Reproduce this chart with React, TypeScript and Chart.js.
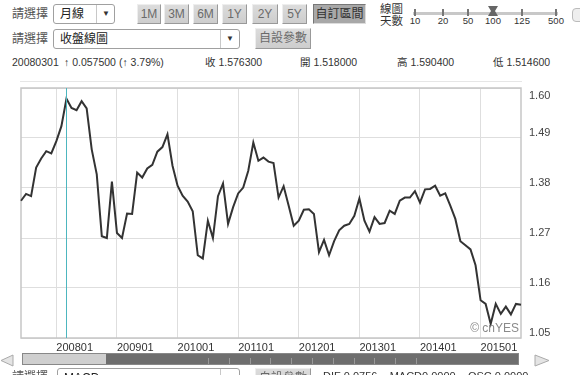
import React, { useEffect, useRef } from 'react';
import { Chart, registerables } from 'chart.js';
Chart.register(...registerables);

const months = [
  '200706','200707','200708','200709','200710','200711','200712',
  '200801','200802','200803','200804','200805','200806','200807','200808','200809','200810','200811','200812',
  '200901','200902','200903','200904','200905','200906','200907','200908','200909','200910','200911','200912',
  '201001','201002','201003','201004','201005','201006','201007','201008','201009','201010','201011','201012',
  '201101','201102','201103','201104','201105','201106','201107','201108','201109','201110','201111','201112',
  '201201','201202','201203','201204','201205','201206','201207','201208','201209','201210','201211','201212',
  '201301','201302','201303','201304','201305','201306','201307','201308','201309','201310','201311','201312',
  '201401','201402','201403','201404','201405','201406','201407','201408','201409','201410','201411','201412',
  '201501','201502','201503','201504','201505','201506','201507','201508','201509',
];

const closes = [
  1.352, 1.367, 1.362, 1.425, 1.445, 1.461, 1.456,
  1.483, 1.516, 1.5763, 1.556, 1.551, 1.571, 1.555, 1.465, 1.410, 1.274, 1.270, 1.394,
  1.281, 1.270, 1.324, 1.323, 1.414, 1.403, 1.423, 1.431, 1.460, 1.470, 1.498, 1.429,
  1.385, 1.363, 1.350, 1.329, 1.232, 1.225, 1.308, 1.270, 1.362, 1.390, 1.301, 1.338,
  1.368, 1.381, 1.418, 1.480, 1.440, 1.447, 1.438, 1.435, 1.359, 1.384, 1.341, 1.297,
  1.308, 1.332, 1.333, 1.323, 1.239, 1.266, 1.232, 1.263, 1.287, 1.297, 1.301, 1.319,
  1.357, 1.308, 1.284, 1.316, 1.301, 1.303, 1.330, 1.323, 1.352, 1.359, 1.359, 1.373,
  1.348, 1.377, 1.378, 1.385, 1.363, 1.368, 1.341, 1.312, 1.263, 1.254, 1.245, 1.210,
  1.133, 1.125, 1.081, 1.125, 1.103, 1.119, 1.102, 1.125, 1.123,
];

const xTickLabels = ['200801', '200901', '201001', '201101', '201201', '201301', '201401', '201501'];
const yTickLabels = ['1.05', '1.16', '1.27', '1.38', '1.49', '1.60'];
const yMin = 1.05;
const yMax = 1.6;
const yStep = 0.055;
const cursorMonth = '200803';

const rangeButtons = ['1M', '3M', '6M', '1Y', '2Y', '5Y'];
const dayOptions = ['10', '20', '50', '100', '125', '500'];
const selectedDays = '100';
const quoteDate = '20080301';
const quoteChange = '↑ 0.057500 (↑ 3.79%)';
const quoteFields = ['收 1.576300', '開 1.518000', '高 1.590400', '低 1.514600'];
const macdText = 'DIF 0.0756    MACD0.0000    OSC 0.0000';

const FONT = '"Liberation Sans", Arial, "Noto Sans CJK TC", sans-serif';

const btnPos = [[137, 24], [164, 25], [193, 25], [222, 25], [252, 26], [282, 25]];
const dayPos = [415, 443, 468, 493, 522, 556];
const quotePos = [205, 300, 397, 493];
const scrollTicks = [208, 229, 250, 270, 291, 312, 333, 354, 374, 395, 416];

const abs = (l: number, t: number, extra: React.CSSProperties = {}): React.CSSProperties => ({
  position: 'absolute', left: l, top: t, ...extra,
});

function Btn({ l, t, w, h, text, pressed }: { l: number; t: number; w: number; h: number; text: string; pressed?: boolean }) {
  return (
    <div style={abs(l, t, {
      width: w, height: h, boxSizing: 'border-box',
      border: '1px solid',
      borderColor: pressed ? '#777 #ddd #ddd #777' : '#eee #999 #999 #eee',
      background: pressed ? '#a8a8a8' : 'linear-gradient(#dcdcdc, #cdcdcd)',
      color: pressed ? '#333' : '#6a6a6a',
      fontSize: 12, lineHeight: `${h - 2}px`, textAlign: 'center', fontFamily: FONT,
      whiteSpace: 'nowrap',
    })}>{text}</div>
  );
}

function Select({ l, t, w, text, div }: { l: number; t: number; w: number; text: string; div: number }) {
  return (
    <div style={abs(l, t, {
      width: w, height: 20, boxSizing: 'border-box', border: '1px solid #a0a0a0', borderRadius: 3,
      background: '#fff', fontFamily: FONT, fontSize: 12, color: '#222',
    })}>
      <span style={abs(6, 1, { lineHeight: '16px' })}>{text}</span>
      <div style={abs(div, 0, { width: 1, height: 18, background: '#c8c8c8' })} />
      <span style={abs(div + 6, 1, { lineHeight: '16px', fontSize: 8, color: '#333' })}>▼</span>
    </div>
  );
}

export default function App() {
  const ref = useRef<HTMLCanvasElement>(null);
  useEffect(() => {
    if (!ref.current) return;
    const overlay = {
      id: 'overlay',
      beforeDatasetsDraw(chart: any) {
        const { ctx, chartArea: a } = chart;
        ctx.save();
        ctx.strokeStyle = '#c6c6c6';
        ctx.lineWidth = 1.5;
        ctx.strokeRect(a.left, a.top, a.right - a.left, a.bottom - a.top);
        ctx.restore();
      },
      afterDatasetsDraw(chart: any) {
        const { ctx, chartArea: a } = chart;
        const x = chart.scales.x.getPixelForValue(months.indexOf(cursorMonth));
        ctx.save();
        ctx.strokeStyle = '#4db6bf';
        ctx.lineWidth = 1;
        ctx.beginPath();
        ctx.moveTo(Math.round(x) + 0.5, a.top);
        ctx.lineTo(Math.round(x) + 0.5, a.bottom);
        ctx.stroke();
        ctx.fillStyle = '#8a8a8a';
        ctx.font = `12px ${FONT}`;
        ctx.textAlign = 'right';
        ctx.textBaseline = 'bottom';
        ctx.fillText('© cnYES', a.right - 2, a.bottom - 3);
        ctx.restore();
      },
    };
    const lastTick = (yTickLabels.length - 1) * 2;
    const chart = new Chart(ref.current, {
      type: 'line',
      data: {
        labels: months,
        datasets: [{
          data: closes,
          borderColor: '#333',
          borderWidth: 2,
          pointRadius: 0,
          tension: 0,
          fill: false,
        }],
      },
      options: {
        animation: false,
        responsive: false,
        maintainAspectRatio: false,
        layout: { padding: { left: 21, top: 8, right: 0, bottom: 0 } },
        plugins: { legend: { display: false }, tooltip: { enabled: false } },
        events: [],
        scales: {
          x: {
            offset: false,
            border: { display: false },
            grid: { color: '#dedede', drawTicks: false },
            ticks: {
              autoSkip: false, maxRotation: 0, minRotation: 0, align: 'start', padding: 3,
              color: '#333', font: { family: FONT, size: 11 },
              callback: (_v: any, i: number) => (xTickLabels.includes(months[i]) ? months[i] : null),
            },
            afterFit: (s: any) => { s.height = 17; s.paddingLeft = 0; s.paddingRight = 0; },
          },
          y: {
            position: 'right',
            min: yMin, max: yMax,
            border: { display: false },
            grid: { color: '#dedede', drawTicks: false },
            ticks: {
              stepSize: yStep, padding: 8, labelOffset: -5,
              color: '#444', font: { family: FONT, size: 11 },
              callback: (_v: any, i: number) => {
                if (i % 2 !== 0) return '';
                const t = yTickLabels[i / 2];
                return i === lastTick ? ['', '', t] : t;
              },
            },
            afterFit: (s: any) => { s.width = 59; s.paddingTop = 0; s.paddingBottom = 0; },
          },
        },
      },
      plugins: [overlay],
    } as any);
    return () => chart.destroy();
  }, []);

  const txt: React.CSSProperties = { fontFamily: FONT, fontSize: 12, color: '#555', whiteSpace: 'nowrap' };
  const small: React.CSSProperties = { fontFamily: FONT, fontSize: 10.5, color: '#333', whiteSpace: 'nowrap' };

  return (
    <div style={{ position: 'fixed', left: 0, top: 0, width: 580, height: 375, overflow: 'hidden', background: '#fff' }}>
      {/* Row 1 */}
      <div style={abs(12, 6, { ...txt, lineHeight: '16px' })}>請選擇</div>
      <Select l={53} t={4} w={62} text="月線" div={42} />
      {rangeButtons.map((b, i) => (
        <Btn key={b} l={btnPos[i][0]} t={4} w={btnPos[i][1]} h={20} text={b} />
      ))}
      <Btn l={313} t={4} w={53} h={20} text="自訂區間" pressed />
      <div style={abs(380, 3, { ...txt, fontSize: 11.5, lineHeight: '12px', color: '#333' })}>線圖<br />天數</div>
      <div style={abs(413, 12, { width: 145, height: 3, background: '#c8c8c8' })} />
      {dayOptions.map((d, i) => (
        <React.Fragment key={d}>
          <div style={abs(dayPos[i] - 1, 9, { width: 2, height: 7, background: '#777' })} />
          <div style={abs(dayPos[i] - 12, 15, { width: 24, textAlign: 'center', fontFamily: FONT, fontSize: 9.5, color: '#333' })}>{d}</div>
          {d === selectedDays && (
            <svg style={abs(dayPos[i] - 5, 6)} width={10} height={11}>
              <polygon points="0,0 10,0 7,5 10,10 0,10 3,5" fill="#666" />
            </svg>
          )}
        </React.Fragment>
      ))}
      <div style={abs(572, 8, { width: 12, height: 12, borderRadius: 4, border: '1px solid #bbb', background: '#eee' })} />

      {/* Row 2 */}
      <div style={abs(12, 31, { ...txt, lineHeight: '16px' })}>請選擇</div>
      <Select l={53} t={29} w={187} text="收盤線圖" div={166} />
      <Btn l={255} t={28} w={56} h={21} text="自設參數" />

      {/* Row 3 */}
      <div style={abs(12, 55, { ...small, lineHeight: '14px' })}>{quoteDate}</div>
      <div style={abs(64, 55, { ...small, lineHeight: '14px' })}>{quoteChange}</div>
      {quoteFields.map((q, i) => (
        <div key={q} style={abs(quotePos[i], 55, { ...small, lineHeight: '14px' })}>{q}</div>
      ))}

      <div style={abs(20, 81, { width: 502, height: 1, background: '#e6e6e6' })} />
      <canvas ref={ref} width={580} height={275} style={abs(0, 80, { width: 580, height: 275 })} />

      {/* scrollbar */}
      <svg style={abs(0, 354)} width={14} height={13}>
        <polygon points="13,1 13,12 1,6.5" fill="#e4e4e4" stroke="#aaa" />
      </svg>
      <div style={abs(22, 353, { width: 497, height: 12, boxSizing: 'border-box', border: '1px solid #888', background: '#6e6e6e' })}>
        <div style={abs(0, 0, { width: 83, height: 10, background: '#cfcfcf' })} />
        {scrollTicks.map((x) => (
          <div key={x} style={abs(x - 23, 4, { width: 1, height: 6, background: '#999' })} />
        ))}
      </div>
      <svg style={abs(534, 354)} width={16} height={13}>
        <polygon points="1,1 1,12 15,6.5" fill="#e4e4e4" stroke="#aaa" />
      </svg>

      {/* bottom row (cut off) */}
      <div style={abs(12, 369, { ...txt, lineHeight: '16px' })}>請選擇</div>
      <Select l={57} t={368} w={183} text="MACD" div={162} />
      <Btn l={255} t={368} w={56} h={21} text="自設參數" />
      <div style={abs(323, 369, { ...small, fontSize: 11, lineHeight: '14px', whiteSpace: 'pre' })}>{macdText}</div>
    </div>
  );
}
